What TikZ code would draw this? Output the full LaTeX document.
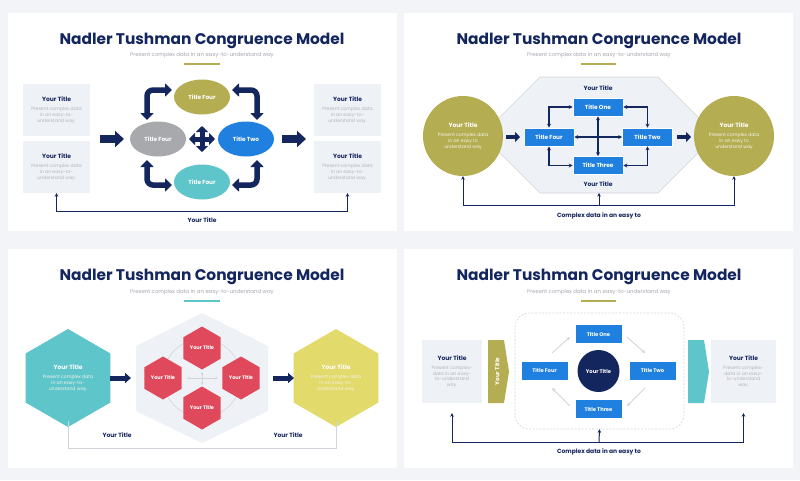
\documentclass[tikz,border=0pt]{standalone}
\usepackage{fontspec}
\setmainfont{Poppins}
\usetikzlibrary{arrows.meta,shapes.geometric,calc}
\definecolor{bgc}{HTML}{F2F4F7}
\definecolor{navy}{HTML}{14265E}
\definecolor{subg}{HTML}{A3A7AE}
\definecolor{descg}{HTML}{B2B6BD}
\definecolor{boxg}{HTML}{EEF1F5}
\definecolor{olive}{HTML}{B4AD52}
\definecolor{greyel}{HTML}{A7A9AD}
\definecolor{blue1}{HTML}{2080E0}
\definecolor{teal}{HTML}{5EC5CB}
\definecolor{redh}{HTML}{E0495B}
\definecolor{yel}{HTML}{E2DA6B}
\definecolor{hexg}{HTML}{EEF2F6}
\definecolor{lineg}{HTML}{D0D5DC}
\definecolor{wdesc}{HTML}{F4F4EC}
\newcommand{\tblock}[3]{\parbox{60pt}{\centering\bfseries\fontsize{6}{6}\selectfont\color{#1}Your Title\par\vspace{3.4pt}\mdseries\fontsize{4.6}{5.8}\selectfont\color{#2}#3\par}}
\begin{document}
\begin{tikzpicture}[x=1pt,y=-1pt,
  slide/.style={fill=white},
  ttl/.style={font=\bfseries\fontsize{15.4}{16}\selectfont, text=navy, inner sep=0},
  sub/.style={font=\fontsize{5.4}{5.4}\selectfont, text=subg, inner sep=0},
  lbl/.style={font=\bfseries\fontsize{6}{6}\selectfont, text=navy, inner sep=0},
  wlbl/.style={font=\bfseries\fontsize{5.8}{6}\selectfont, text=white, inner sep=0},
  gbox/.style={fill=boxg, inner sep=0, align=center},
  brect/.style={fill=blue1, draw=white, line width=0.6, inner sep=0, font=\bfseries\fontsize{5.8}{6}\selectfont, text=white},
  ell/.style={ellipse, inner sep=0, minimum width=56, minimum height=35, font=\bfseries\fontsize{5.8}{6}\selectfont, text=white},
  hexa/.style={regular polygon, regular polygon sides=6, shape border rotate=30, inner sep=0, align=center},
  uline/.style={line width=1.3},
  barrowA/.style={navy, line width=8, -{Triangle[width=16pt,length=9pt]}},
  barrowB/.style={navy, line width=4.5, -{Triangle[width=10pt,length=5pt]}},
  barrowC/.style={navy, line width=5, -{Triangle[width=10pt,length=6pt]}},
  cornarr/.style={navy, line width=5.5, rounded corners=6, {Triangle[width=13pt,length=7pt]}-{Triangle[width=13pt,length=7pt]}},
  fourarr/.style={navy, line width=5, {Triangle[width=12pt,length=6pt]}-{Triangle[width=12pt,length=6pt]}},
  thinarr/.style={navy, line width=1, {Stealth[width=3.5pt,length=3.5pt]}-{Stealth[width=3.5pt,length=3.5pt]}},
  uparr/.style={navy, line width=1, -{Stealth[width=3.5pt,length=3.5pt]}},
  linkarr/.style={navy, line width=1.2, {Stealth[width=4pt,length=4pt]}-{Stealth[width=4pt,length=4pt]}},
  diagarr/.style={lineg, line width=0.8, -{Stealth[width=3.5pt,length=3.5pt]}},
  crossarr/.style={lineg, line width=0.6, {Stealth[width=2.5pt,length=2.5pt]}-{Stealth[width=2.5pt,length=2.5pt]}},
  graylink/.style={lineg, line width=0.8}
]
\useasboundingbox (0,0) rectangle (800,480);
\fill[bgc] (0,0) rectangle (800,480);

% ================= SLIDE 1 =================
\fill[slide] (8,13) rectangle (397,231);
\node[ttl] (t1) at (202,40.5) {Nadler Tushman Congruence Model};
\node[sub] (s1) at (202,55.5) {Present complex data in an easy-to-understand way};
\draw[olive, uline] (184,64) -- (220,64);

\node[gbox, minimum width=67, minimum height=52] (lb1) at (56.5,110) {\tblock{navy}{descg}{Present complex data\\in an easy-to-\\understand way.}};
\node[gbox, minimum width=67, minimum height=52] (lb2) at (56.5,167) {\tblock{navy}{descg}{Present complex data\\in an easy-to-\\understand way.}};
\node[gbox, minimum width=67, minimum height=52] (rb1) at (347.5,110) {\tblock{navy}{descg}{Present complex data\\in an easy-to-\\understand way.}};
\node[gbox, minimum width=67, minimum height=52] (rb2) at (347.5,167) {\tblock{navy}{descg}{Present complex data\\in an easy-to-\\understand way.}};

\coordinate (a1s) at (100,139); \coordinate (a1e) at (124,139);
\coordinate (a2s) at (282,139); \coordinate (a2e) at (306,139);
\draw[barrowA] (a1s) -- (a1e);
\draw[barrowA] (a2s) -- (a2e);

\node[ell, fill=olive] (e1) at (202,97) {Title Four};
\node[ell, fill=greyel] (e4) at (158,139) {Title Four};
\node[ell, fill=blue1] (e2) at (246,139) {Title Two};
\node[ell, fill=teal] (e3) at (202,182) {Title Four};

\coordinate (fl) at (189,139); \coordinate (fr) at (215,139);
\coordinate (ft) at (202,126); \coordinate (fb) at (202,152);
\draw[fourarr] (fl) -- (fr);
\draw[fourarr] (ft) -- (fb);

\coordinate (ca1) at (147,120); \coordinate (ca2) at (172,90);
\coordinate (cb1) at (232,90); \coordinate (cb2) at (257,120);
\coordinate (cc1) at (147,160); \coordinate (cc2) at (172,185);
\coordinate (cd1) at (257,160); \coordinate (cd2) at (232,185);
\draw[cornarr] (ca1) |- (ca2);
\draw[cornarr] (cb1) -| (cb2);
\draw[cornarr] (cc1) |- (cc2);
\draw[cornarr] (cd1) |- (cd2);

\draw[thinarr] (lb2.south) -- ++(0,18) -| (rb2.south);
\node[lbl] (yt1) at (202,220) {Your Title};

% ================= SLIDE 2 =================
\fill[slide] (404,13) rectangle (793,231);
\node[ttl] (t2) at (599,40.5) {Nadler Tushman Congruence Model};
\node[sub] (s2) at (599,55.5) {Present complex data in an easy-to-understand way};
\draw[olive, uline] (581,64) -- (616,64);

\coordinate (hx1) at (540,77); \coordinate (hx2) at (658,77);
\coordinate (hx3) at (716,135); \coordinate (hx4) at (658,193);
\coordinate (hx5) at (540,193); \coordinate (hx6) at (482,135);
\coordinate (h2b) at (599,193);
\draw[fill=hexg, draw=lineg, line width=0.6] (hx1) -- (hx2) -- (hx3) -- (hx4) -- (hx5) -- (hx6) -- cycle;

\node[circle, fill=olive, minimum size=80, inner sep=0, align=center] (c2l) at (463,136) {\tblock{white}{wdesc}{Present complex data\\in an easy to\\understand way}};
\node[circle, fill=olive, minimum size=80, inner sep=0, align=center] (c2r) at (734,136) {\tblock{white}{wdesc}{Present complex data\\in an easy to\\understand way}};

\node[brect, minimum width=50, minimum height=18] (q1) at (598,107) {Title One};
\node[brect, minimum width=50, minimum height=18] (q4) at (549,137) {Title Four};
\node[brect, minimum width=50, minimum height=18] (q2) at (647.5,137) {Title Two};
\node[brect, minimum width=50, minimum height=18] (q3) at (598,165.5) {Title Three};

\draw[linkarr] (q4.north) |- (q1.west);
\draw[linkarr] (q1.east) -| (q2.north);
\draw[linkarr] (q4.south) |- (q3.west);
\draw[linkarr] (q3.east) -| (q2.south);
\draw[linkarr] (q1.south) -- (q3.north);
\draw[linkarr] (q4.east) -- (q2.west);

\coordinate (a3s) at (506,137); \coordinate (a3e) at (520,137);
\coordinate (a4s) at (677,137); \coordinate (a4e) at (691,137);
\draw[barrowB] (a3s) -- (a3e);
\draw[barrowB] (a4s) -- (a4e);

\node[lbl] (yt2a) at (598,88) {Your Title};
\node[lbl] (yt2b) at (598,184) {Your Title};

\draw[thinarr] (c2l.south) -- ++(0,29) -| (c2r.south);
\coordinate (m2) at (599,205);
\draw[uparr] (m2) -- (h2b);
\node[lbl] (cd2) at (599,215.5) {Complex data in an easy to};

% ================= SLIDE 3 =================
\fill[slide] (8,249) rectangle (397,468);
\node[ttl] (t3) at (202,276.5) {Nadler Tushman Congruence Model};
\node[sub] (s3) at (202,292.5) {Present complex data in an easy-to-understand way};
\draw[teal, uline] (184,301) -- (220,301);

\fill[hexg] (202,313) -- (268,346) -- (268,411) -- (202,443) -- (136,411) -- (136,346) -- cycle;
\node[circle, draw=lineg, line width=0.6, minimum size=78, inner sep=0] (c3) at (202,378) {};

\coordinate (x3l) at (187,378); \coordinate (x3r) at (218,378);
\coordinate (x3t) at (202,372); \coordinate (x3b) at (202,385);
\draw[crossarr] (x3l) -- (x3r);
\draw[crossarr] (x3t) -- (x3b);

\node[hexa, fill=redh, minimum size=43, font=\bfseries\fontsize{5}{5}\selectfont, text=white] (r1) at (202,348) {Your Title};
\node[hexa, fill=redh, minimum size=43, font=\bfseries\fontsize{5}{5}\selectfont, text=white] (r4) at (163,378) {Your Title};
\node[hexa, fill=redh, minimum size=43, font=\bfseries\fontsize{5}{5}\selectfont, text=white] (r2) at (241,378) {Your Title};
\node[hexa, fill=redh, minimum size=43, font=\bfseries\fontsize{5}{5}\selectfont, text=white] (r3) at (202,408) {Your Title};

\node[hexa, fill=teal, minimum size=86] (h3l) at (68,378) {\tblock{white}{wdesc}{Present complex data\\in an easy-to-\\understand way.}};
\node[hexa, fill=yel, minimum size=86] (h3r) at (336,378) {\tblock{white}{wdesc}{Present complex data\\in an easy-to-\\understand way.}};

\coordinate (a5s) at (110,378); \coordinate (a5e) at (131,378);
\coordinate (a6s) at (273,378); \coordinate (a6e) at (294,378);
\draw[barrowC] (a5s) -- (a5e);
\draw[barrowC] (a6s) -- (a6e);

\draw[graylink] ($(h3l.center)+(0,43)$) -- ++(0,27) -| ($(h3r.center)+(0,43)$);
\node[lbl] (yt3a) at (117,435) {Your Title};
\node[lbl] (yt3b) at (288,435) {Your Title};

% ================= SLIDE 4 =================
\fill[slide] (404,249) rectangle (793,468);
\node[ttl] (t4) at (599,276.5) {Nadler Tushman Congruence Model};
\node[sub] (s4) at (599,292.5) {Present complex data in an easy-to-understand way};
\draw[olive, uline] (581,301) -- (616,301);

\node[draw=lineg, dashed, dash pattern=on 2pt off 1.5pt, line width=0.6, rounded corners=14, minimum width=169, minimum height=116, inner sep=0] (d4) at (599.5,371) {};

\node[gbox, minimum width=60, minimum height=63] (lb4) at (452,371.5) {\tblock{navy}{descg}{Present complex-\\data in an easy-\\to-understand\\way.}};
\node[gbox, minimum width=65, minimum height=63] (rb4) at (743.5,371.5) {\tblock{navy}{descg}{Present complex-\\data in an easy-\\to-understand\\way.}};

\fill[olive] (488,340) -- (504,340) -- (509,371.5) -- (504,403) -- (488,403) -- cycle;
\node[wlbl, rotate=90] (ch4) at (497,371.5) {Your Title};
\fill[teal] (688,340) -- (704,340) -- (709,371.5) -- (704,403) -- (688,403) -- cycle;

\node[brect, minimum width=47, minimum height=19, font=\bfseries\fontsize{5.2}{6}\selectfont] (p1) at (598.5,334) {Title One};
\node[brect, minimum width=47, minimum height=19, font=\bfseries\fontsize{5.2}{6}\selectfont] (p4) at (544.5,370.5) {Title Four};
\node[brect, minimum width=47, minimum height=19, font=\bfseries\fontsize{5.2}{6}\selectfont] (p2) at (652.5,370.5) {Title Two};
\node[brect, minimum width=47, minimum height=19, font=\bfseries\fontsize{5.2}{6}\selectfont] (p3) at (598.5,409) {Title Three};
\node[circle, fill=navy, minimum size=42, inner sep=0, font=\bfseries\fontsize{5.2}{6}\selectfont, text=white] (pc) at (598.5,371) {Your Title};

\coordinate (g1a) at (552,353); \coordinate (g1b) at (570,337);
\coordinate (g2a) at (627,337); \coordinate (g2b) at (645,353);
\coordinate (g3a) at (645,388); \coordinate (g3b) at (627,406);
\coordinate (g4a) at (570,406); \coordinate (g4b) at (552,388);
\draw[diagarr] (g1a) -- (g1b);
\draw[diagarr] (g2a) -- (g2b);
\draw[diagarr] (g3a) -- (g3b);
\draw[diagarr] (g4a) -- (g4b);

\draw[thinarr, shorten <=10pt, shorten >=10pt] (lb4.south) -- ++(0,39) -| (rb4.south);
\coordinate (m4) at (599,442);
\draw[uparr] (m4) -- (d4.south);
\node[lbl] (cd4) at (599,452) {Complex data in an easy to};
\end{tikzpicture}
\end{document}
